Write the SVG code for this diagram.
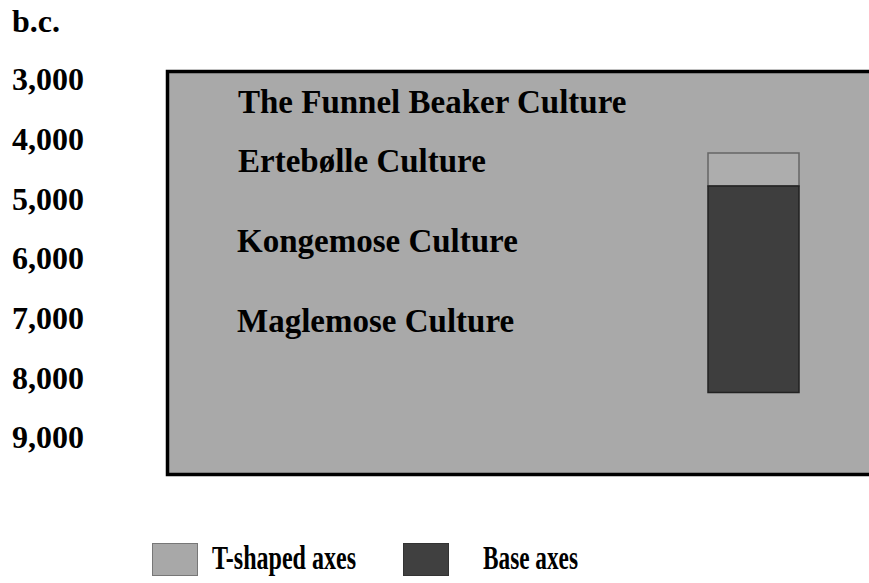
<svg xmlns="http://www.w3.org/2000/svg" width="869" height="583" viewBox="0 0 869 583">
<style>
.t{font-family:"Liberation Serif","Times New Roman",serif;font-weight:bold;fill:#000}
.y{font-size:32px}
.c{font-size:33px}
.l{font-size:33px}
</style>
<rect width="869" height="583" fill="#fff"/>
<g id="chart-frame">
<rect x="167.5" y="71.5" width="720" height="403" fill="#a9a9a9" stroke="#000" stroke-width="3.5"/>
</g>
<g id="axis-labels">
<text class="t y" x="12" y="32">b.c.</text>
<text class="t y" x="12" y="90">3,000</text>
<text class="t y" x="12" y="150">4,000</text>
<text class="t y" x="12" y="210">5,000</text>
<text class="t y" x="12" y="269">6,000</text>
<text class="t y" x="12" y="329">7,000</text>
<text class="t y" x="12" y="389">8,000</text>
<text class="t y" x="12" y="448">9,000</text>
</g>
<g id="culture-labels">
<text class="t c" x="238" y="113">The Funnel Beaker Culture</text>
<text class="t c" x="238" y="172">Ertebølle Culture</text>
<text class="t c" x="237" y="252">Kongemose Culture</text>
<text class="t c" x="237" y="332">Maglemose Culture</text>
</g>
<g id="bar">
<rect x="708" y="153" width="91" height="33" fill="#adadad" stroke="#666" stroke-width="1.5"/>
<rect x="708" y="186" width="91" height="206.5" fill="#3e3e3e" stroke="#222" stroke-width="1.5"/>
</g>
<g id="legend-t-shaped">
<rect x="152.5" y="543.5" width="45" height="32" fill="#a8a8a8" stroke="#777" stroke-width="1"/>
<text class="t l" x="212" y="569" textLength="144" lengthAdjust="spacingAndGlyphs">T-shaped axes</text>
</g>
<g id="legend-base">
<rect x="403.5" y="543.5" width="45" height="32" fill="#404040" stroke="#333" stroke-width="1"/>
<text class="t l" x="483" y="569" textLength="95" lengthAdjust="spacingAndGlyphs">Base axes</text>
</g>
<g id="connectors"/>
</svg>
